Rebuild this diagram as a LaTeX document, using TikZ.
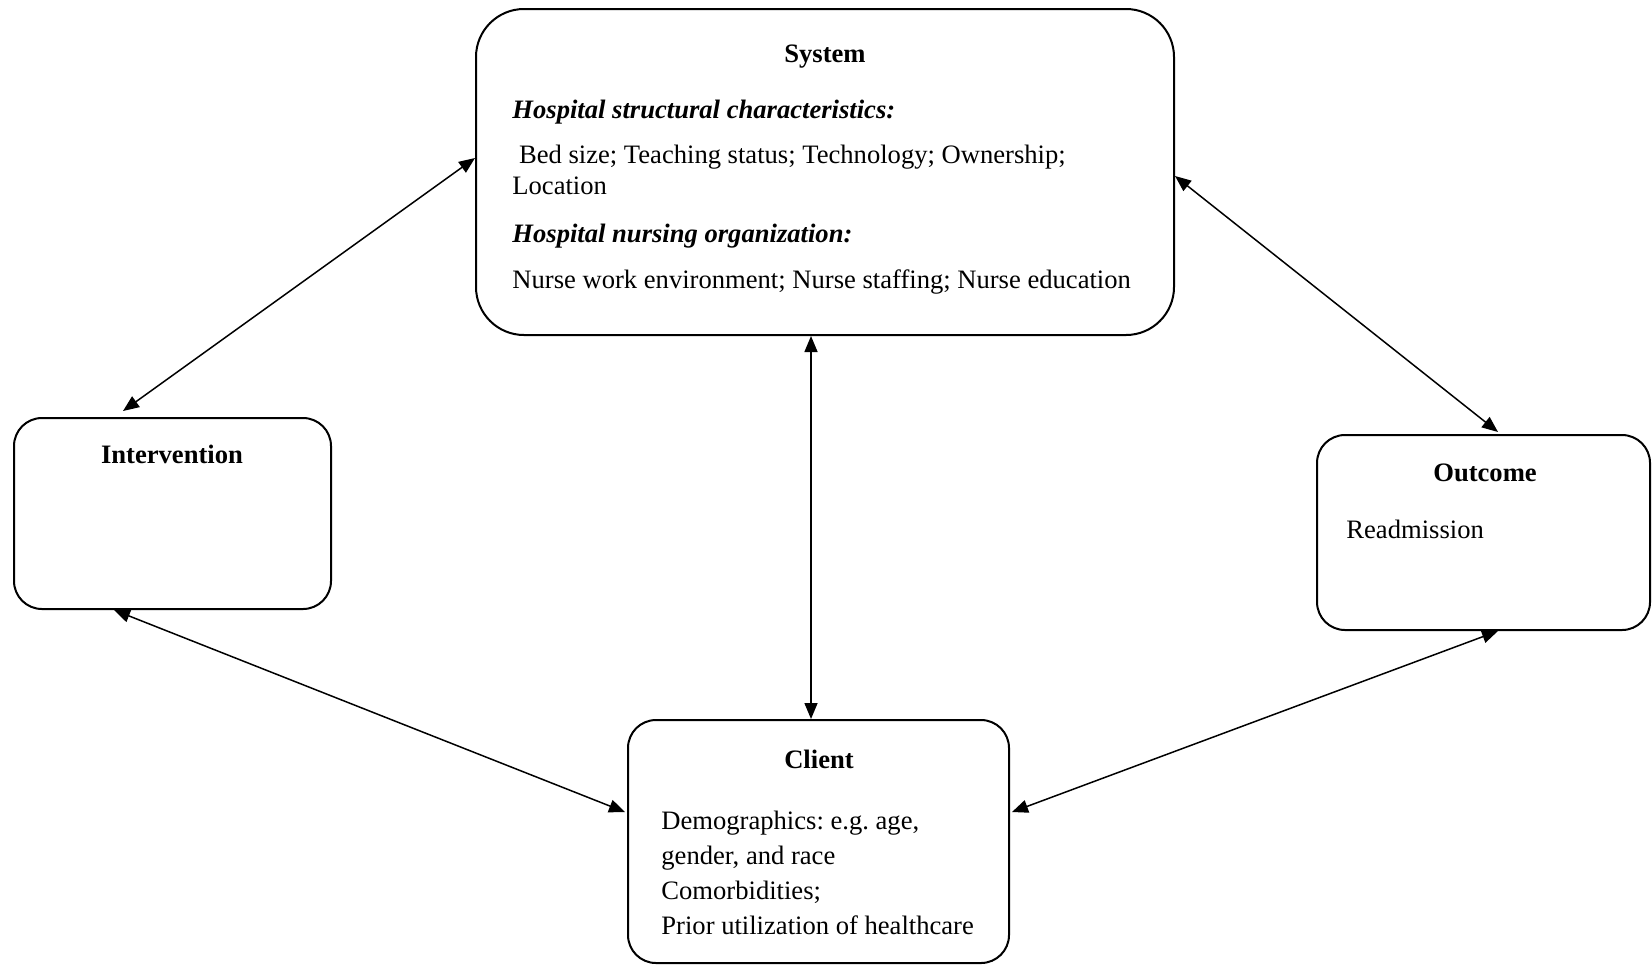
\documentclass[tikz,border=0pt]{standalone}
\usepackage{fontspec}
\setmainfont{Liberation Serif}
\usetikzlibrary{arrows.meta}
\frenchspacing

\tikzset{
  box/.style={draw=black, line width=1pt, rounded corners=14pt, inner sep=0pt},
  txt/.style={inner sep=0pt, font=\fontsize{13.3}{15.3}\selectfont},
  ttl/.style={txt, anchor=base, font=\fontsize{13.3}{15.3}\selectfont\bfseries},
  link/.style={line width=0.75pt, {Triangle[length=8pt,width=6.5pt]}-{Triangle[length=8pt,width=6.5pt]}}
}

\begin{document}
\begin{tikzpicture}[x=0.5pt, y=-0.5pt]
      \useasboundingbox (0,0) rectangle (1652,965);

      % boxes
      \node[box, name=sys, rounded corners=24pt, minimum width=349pt, minimum height=163pt] at (825,172) {};
      \node[box, name=int, minimum width=158.5pt, minimum height=95.5pt] at (172.5,513.5) {};
      \node[box, name=out, minimum width=166.5pt, minimum height=97.5pt] at (1483.5,532.5) {};
      \node[box, name=cli, minimum width=190.5pt, minimum height=121.5pt] at (818.5,841.5) {};

      % system text (base of a multi-line node = its last line)
      \node[ttl, name=systitle] at (825,62) {System};
      \node[txt, anchor=base west, name=syshead1, font=\fontsize{13.3}{15.3}\selectfont\bfseries\itshape] at (512,118) {Hospital structural characteristics:};
      \node[txt, anchor=base west, name=sysbody1, align=left] at (512,194) {\ Bed size; Teaching status; Technology; Ownership;\\Location};
      \node[txt, anchor=base west, name=syshead2, font=\fontsize{13.3}{15.3}\selectfont\bfseries\itshape] at (512,242) {Hospital nursing organization:};
      \node[txt, anchor=base west, name=sysbody2] at (512,288) {Nurse work environment; Nurse staffing; Nurse education};

      % other texts
      \node[ttl, name=inttitle] at (172,463) {Intervention};
      \node[ttl, name=outtitle] at (1485,481) {Outcome};
      \node[txt, anchor=base west, name=outbody] at (1346,538) {Readmission};
      \node[ttl, name=clititle] at (819,768) {Client};
      \node[txt, anchor=base west, name=clibody, align=left, font=\fontsize{13.3}{17.4}\selectfont] at (661,934)
         {Demographics: e.g. age,\\gender, and race\\Comorbidities;\\Prior utilization of healthcare};

      \path[link]
         ([yshift=7pt]sys.west) edge ([xshift=-24.75pt,yshift=3pt]int.north)
         ([xshift=-7pt]sys.south) edge ([xshift=-3.75pt]cli.north)
         ([yshift=-2pt]sys.east) edge ([xshift=7.25pt,yshift=1pt]out.north)
         ([xshift=-29.25pt]int.south) edge ([xshift=-1pt,yshift=14.75pt]cli.west)
         ([xshift=1pt,yshift=14.75pt]cli.east) edge ([xshift=7.25pt]out.south);
   \end{tikzpicture}
\end{document}
